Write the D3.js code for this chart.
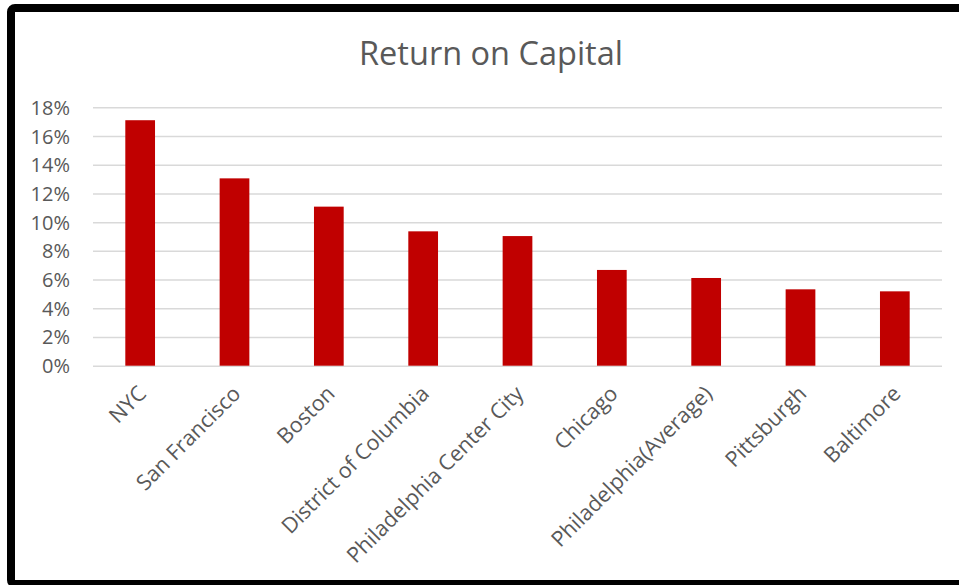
<!DOCTYPE html>
<html>
<head>
<meta charset="utf-8">
<script src="https://cdn.jsdelivr.net/npm/d3@7"></script>
<style>
  html, body { margin: 0; padding: 0; background: #fff; }
  svg { display: block; }
  text { font-family: "Open Sans", "Noto Sans", sans-serif; fill: #595959; }
</style>
</head>
<body>
<svg id="chart" width="959" height="585"></svg>
<script>
// Return on capital by market
const cities = ["NYC", "San Francisco", "Boston", "District of Columbia",
  "Philadelphia Center City", "Chicago", "Philadelphia(Average)", "Pittsburgh", "Baltimore"];
const returns = [0.171, 0.1305, 0.1108, 0.0936, 0.0903, 0.0667, 0.0611, 0.0532, 0.0518];
const yTicks = [0, 0.02, 0.04, 0.06, 0.08, 0.10, 0.12, 0.14, 0.16, 0.18];
const title = "Return on Capital";

const svg = d3.select("#chart");
const plot = { left: 93, right: 942, top: 107.3, bottom: 365.7 };

// outer frame
svg.append("rect")
  .attr("x", 11).attr("y", 8)
  .attr("width", 960).attr("height", 576)
  .attr("rx", 4)
  .attr("fill", "#fff")
  .attr("stroke", "#000")
  .attr("stroke-width", 8);

// title
svg.append("text")
  .attr("x", 491).attr("y", 65)
  .attr("text-anchor", "middle")
  .style("font-size", "32.5px")
  .text(title);

const x = d3.scaleBand().domain(cities).range([plot.left, plot.right]).paddingInner(0.685).paddingOuter(0.3425);
const y = d3.scaleLinear().domain([0, 0.18]).range([plot.bottom, plot.top]);

// gridlines + value axis
const yAxis = d3.axisLeft(y).tickValues(yTicks).tickFormat(d3.format(".0%"))
  .tickSize(-(plot.right - plot.left)).tickPadding(23);
const gy = svg.append("g").attr("transform", `translate(${plot.left},0)`).call(yAxis);
gy.select(".domain").remove();
gy.selectAll(".tick line").attr("stroke", "#d9d9d9").attr("stroke-width", 1.5);
gy.selectAll(".tick text").style("font-size", "20px").attr("fill", "#595959").attr("dy", "0.35em");

// bars
svg.append("g").selectAll("rect").data(cities).join("rect")
  .attr("x", d => x(d))
  .attr("width", x.bandwidth())
  .attr("y", (d, i) => y(returns[i]))
  .attr("height", (d, i) => y(0) - y(returns[i]))
  .attr("fill", "#c00000");

// category labels, rotated
const xAxis = d3.axisBottom(x).tickSize(0).tickPadding(0);
const gx = svg.append("g").attr("transform", `translate(0,${plot.bottom})`).call(xAxis);
gx.select(".domain").remove();
gx.selectAll(".tick text")
  .style("font-size", "21.5px")
  .attr("fill", "#595959")
  .attr("text-anchor", "end")
  .attr("transform", "translate(2,24) rotate(-45)")
  .attr("dy", "0.35em")
  .attr("y", 0);
</script>
</body>
</html>
